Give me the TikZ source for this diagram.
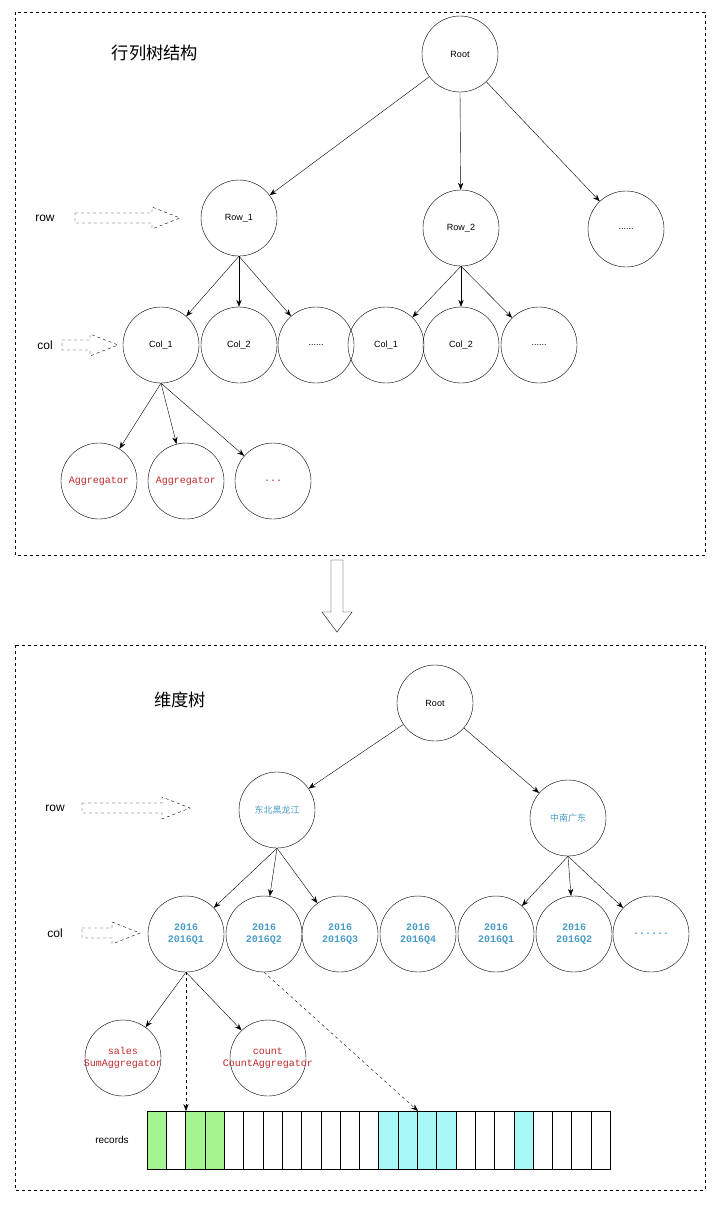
\documentclass[tikz,border=0pt]{standalone}
\usepackage{fontspec}
\setmainfont{Liberation Sans}
\setmonofont{Liberation Mono}
\newfontfamily\cjk{Noto Sans CJK SC}
\usetikzlibrary{arrows.meta,positioning}
\definecolor{aggred}{HTML}{C0282A}
\definecolor{dimblue}{HTML}{4A9CC8}
\definecolor{recgreen}{HTML}{A3F58F}
\definecolor{reccyan}{HTML}{A8F8F8}
\newcommand\sixdots{......}
% hollow dashed arrow: x start, x tip, y
\newcommand\hollowarrow[3]{%
  \draw[dashed] (#1,#3-5)--(#2-28,#3-5)--(#2-28,#3-11)--(#2,#3)--(#2-28,#3+11)--(#2-28,#3+5)--(#1,#3+5)--cycle;}
\tikzset{
  tn/.style={draw,circle,minimum size=76pt,inner sep=0,font=\small},
  agg/.style={tn,text=aggred,font=\ttfamily\normalsize,align=center},
  aggtxt/.style={text=aggred,font=\ttfamily\normalsize,align=center},
  dim/.style={tn,text=dimblue,font=\ttfamily\bfseries\normalsize,align=center},
  edge/.style={-{Stealth[length=7pt]}},
  lbl/.style={font=\large},
}
\begin{document}
\begin{tikzpicture}[x=1pt,y=-1pt]
\useasboundingbox (0,0) rectangle (720,1205);
\draw[dashed](15,12)rectangle(705,555);
\draw[dashed](15,645)rectangle(705,1190);
%top tree
\node[font=\cjk\LARGE] (t1) at (155,53) {行列树结构};
\node[tn] (root) at (460,54) {Root};
\node[tn] (r1) at (239,218) {Row\_1};
\node[tn] (r2) at (461,228) {Row\_2};
\node[tn] (r3) at (626,229) {\sixdots};
\foreach \n/\x/\t in {c1/161/Col\_1,c2/239/Col\_2,c3/316/\sixdots,c4/386/Col\_1,c5/461/Col\_2,c6/539/\sixdots}
  \node[tn] (\n) at (\x,345) {\t};
\node[agg] (a1) at (99,481) {Aggregator};
\node[agg] (a2) at (186,481) {Aggregator};
\node[agg] (a3) at (273,481) {...};
\foreach \a/\b in {root/r1,root.south/r2,root/r3,r1.south/c1,r1.south/c2,r1.south/c3,r2.south/c4,r2.south/c5,r2.south/c6,c1.south/a1,c1.south/a2,c1.south/a3}
  \draw[edge] (\a) -- (\b);
\node[lbl] (lrow) at (45,218) {row};
\hollowarrow{75}{180}{218}
\node[lbl] (lcol) at (45,345) {col};
\hollowarrow{62}{118}{345}
%down arrow
\draw (331,560)--(343,560)--(343,612)--(352,612)--(337,632)--(322,612)--(331,612)--cycle;
%bottom tree
\node[font=\cjk\LARGE] (t2) at (180,700) {维度树};
\node[tn] (droot) at (435,703) {Root};
\node[tn,text=dimblue,font=\cjk\small] (d1) at (277,810) {东北黑龙江};
\node[tn,text=dimblue,font=\cjk\small] (d2) at (568,818) {中南广东};
\foreach \n/\x/\t in {q1/186/2016Q1,q2/264/2016Q2,q3/340/2016Q3,q4/418/2016Q4,q5/496/2016Q1,q6/574/2016Q2}
  \node[dim] (\n) at (\x,934) {2016\\\t};
\node[dim] (q7) at (651,934) {\sixdots};
\node[tn,label={[aggtxt]center:sales\\SumAggregator}] (s1) at (123,1058) {};
\node[tn,label={[aggtxt]center:count\\CountAggregator}] (s2) at (268,1058) {};
\foreach \a/\b in {droot/d1,droot/d2,d1.south/q1,d1.south/q2,d1.south/q3,d2.south/q5,d2.south/q6,d2.south/q7,q1.south/s1,q1.south/s2}
  \draw[edge] (\a) -- (\b);
\node[lbl] (brow) at (55,808) {row};
\hollowarrow{82}{190}{808}
\node[lbl] (bcol) at (55,933) {col};
\hollowarrow{82}{140}{933}
%records
\node (rec) at (112,1140) {records};
\foreach \i in {1,...,24}{
  \pgfmathsetmacro\xa{147+(\i-1)*19.3}
  \def\fc{white}
  \ifnum\i=1 \def\fc{recgreen}\fi
  \ifnum\i=3 \def\fc{recgreen}\fi
  \ifnum\i=4 \def\fc{recgreen}\fi
  \ifnum\i>12 \ifnum\i<17 \def\fc{reccyan}\fi\fi
  \ifnum\i=20 \def\fc{reccyan}\fi
  \draw[fill=\fc] (\xa,1111) rectangle ++(19.3,58);
}
\coordinate (p1) at (186,1111);
\coordinate (p2) at (418,1111);
\draw[edge,dashed] (q1.south) -- (p1);
\draw[edge,dashed] (q2.south) -- (p2);
\end{tikzpicture}
\end{document}
